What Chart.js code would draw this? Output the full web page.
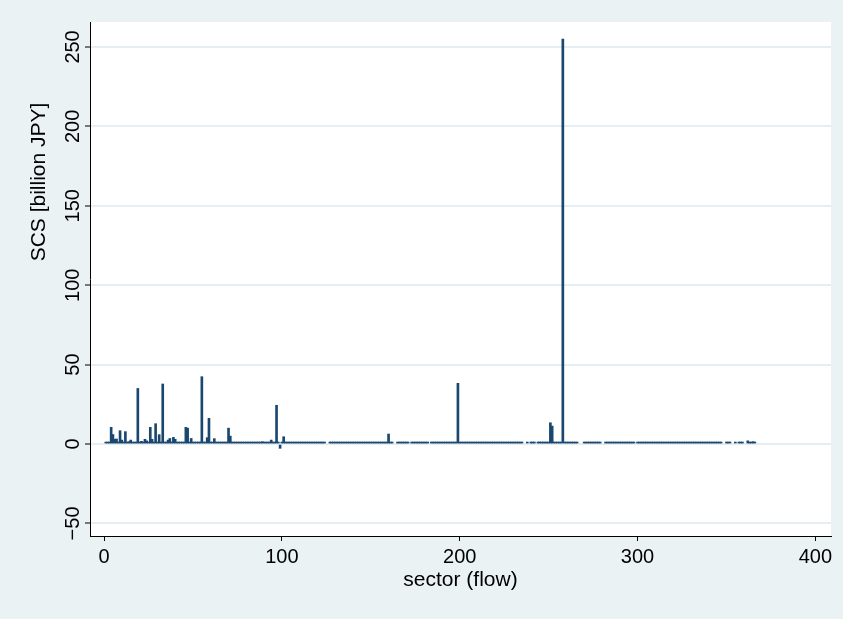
<!DOCTYPE html>
<html>
<head>
<meta charset="utf-8">
<title>SCS by sector</title>
<script src="https://cdn.jsdelivr.net/npm/chart.js@4.4.1/dist/chart.umd.min.js"></script>
<style>
  html, body { margin: 0; padding: 0; background: #eaf2f3; }
  #scsChart { display: block; }
</style>
</head>
<body>
<canvas id="scsChart" width="843" height="619"></canvas>
<script>
// SCS per sector (billion JPY), sector 1 first; null = sector without a value
const scsValues = [
  0.5, 0.4, 0.8, 10.5, 6.0, 3.0, 3.2, 1.0, 8.4, 2.5, 1.0, 7.8, 0.8, 1.5, 2.5, 0.8, 0.6, 1.0, 35.0, 1.0,
  1.7, 1.0, 3.0, 2.0, 1.2, 10.5, 3.0, 1.0, 12.8, 1.0, 5.9, 1.0, 37.8, 0.8, 0.6, 2.5, 3.5, 1.0, 4.2, 3.0,
  0.8, 0.6, 0.5, 0.8, 1.0, 10.5, 10.0, 1.2, 3.5, 1.0, 0.6, 0.5, 0.6, 0.8, 42.4, 0.6, 0.8, 4.0, 16.2, 0.8,
  1.0, 3.4, 0.8, 0.6, 0.5, 0.8, 1.0, 0.6, 0.8, 10.0, 5.0, 1.0, 0.8, 1.2, 1.0, 0.6, 0.8, 0.5, 0.6, 1.0,
  0.8, 1.0, 1.2, 0.8, 0.6, 0.5, 0.6, 0.8, 1.5, 1.0, 0.6, 0.8, 1.0, 2.5, 0.8, 1.0, 24.4, 0.6, -2.7, 0.8,
  4.6, 0.8, 0.6, 0.5, 0.6, 0.8, 1.0, 0.6, 0.5, 0.6, 0.5, 0.6, 0.8, 1.0, 1.2, 0.6, 0.5, 0.6, 0.5, 0.6,
  0.5, 0.6, 0.5, 0.6, null, null, 0.5, 0.6, 0.5, 0.6, 0.5, 0.6, 0.5, 0.6, 0.7, 0.9, 0.8, 0.6, 0.5, 0.6,
  0.5, 0.6, 0.5, 0.6, 0.5, 0.6, 0.5, 0.6, 0.5, 0.6, 0.5, 0.6, 0.5, 0.6, 0.5, 0.6, 0.5, 0.6, 0.7, 6.3,
  0.6, 0.5, null, null, 0.5, 0.6, 0.5, 0.6, 0.5, 0.6, 0.5, null, 0.5, 0.6, 0.5, 0.6, 0.5, 0.6, 0.5, 0.6,
  0.5, 0.6, null, 0.6, 0.5, 0.6, 0.5, 0.6, 0.5, 0.6, 0.5, 0.6, 0.5, 0.6, 0.5, 0.6, 0.7, 0.8, 38.2, 0.6,
  0.5, 0.6, 0.5, 0.6, 0.5, 0.6, 0.5, 0.6, 0.5, 0.6, 0.5, 0.6, 0.5, 0.6, 0.5, 0.6, 0.5, 0.6, 0.5, 0.6,
  0.5, 0.6, 0.5, 0.6, 0.5, 0.6, 0.5, 0.6, 0.5, 0.6, 0.5, 0.6, 0.5, 0.6, 0.5, null, null, 0.5, null, 0.6,
  0.5, 0.6, null, 0.6, 1.3, 0.6, 0.5, 0.6, 0.5, 0.6, 13.4, 11.3, 0.6, 0.5, 0.6, 0.5, 0.6, 255.0, 0.6, 0.5,
  0.6, 0.5, 0.6, 0.5, 0.6, 0.5, null, null, null, 0.5, 0.6, 0.5, 0.6, 0.5, 0.6, 0.5, 0.6, 0.5, 0.6, null,
  null, 0.6, 0.5, 0.6, 0.5, 0.6, 0.5, 0.6, 0.5, 0.6, 0.5, 0.6, 0.5, 0.6, 0.5, 0.6, 0.5, 0.6, null, 0.5,
  0.6, 0.5, 0.6, 0.5, 0.6, 0.5, 0.6, 0.5, 0.8, 1.0, 1.2, 0.8, 0.6, 1.0, 0.8, 0.6, 0.5, 0.6, 0.5, 0.6,
  0.5, 0.6, 0.5, 0.6, 0.5, 0.6, 0.5, 0.6, 0.5, 0.6, 0.5, 0.6, 0.5, 0.6, 0.5, 0.6, 0.5, 0.6, 0.5, 0.6,
  0.5, 0.6, 0.5, 0.6, 0.5, 0.6, 0.5, null, null, 0.5, 0.6, 0.5, null, null, 0.6, null, 0.5, 0.6, 0.6, null,
  null, 2.0, 0.8, 0.6, 1.5, 0.6
];
const sectors = scsValues.map((v, i) => i + 1);

const xTicks = [0, 100, 200, 300, 400];
const yTicks = [-50, 0, 50, 100, 150, 200, 250];
const xTitle = 'sector (flow)';
const yTitle = 'SCS [billion JPY]';

const fontFamily = '"Liberation Sans", Arial, Helvetica, sans-serif';
const spikeColor = '#1a476f';
const outerColor = '#eaf2f3';

const points = sectors
    .map((s, i) => ({ x: s, y: scsValues[i] }))
    .filter(p => p.y !== null);

// graph region tint + white plot region
const panelBackground = {
    id: 'panelBackground',
    beforeDraw(chart) {
        const { ctx, chartArea: a } = chart;
        ctx.save();
        ctx.fillStyle = outerColor;
        ctx.fillRect(0, 0, chart.width, chart.height);
        ctx.fillStyle = '#ffffff';
        ctx.fillRect(a.left, a.top, a.right - a.left, a.bottom - a.top);
        ctx.restore();
    }
};

// vertical tick labels and title on the y axis
const yAxisText = {
    id: 'yAxisText',
    afterDraw(chart) {
        const { ctx, chartArea: a } = chart;
        const yScale = chart.scales.y;
        ctx.save();
        ctx.fillStyle = '#000';
        ctx.textAlign = 'center';
        ctx.textBaseline = 'middle';
        ctx.font = '20px ' + fontFamily;
        yTicks.forEach(v => {
            ctx.save();
            ctx.translate(73, yScale.getPixelForValue(v));
            ctx.rotate(-Math.PI / 2);
            ctx.fillText(v < 0 ? '\u2212' + Math.abs(v) : String(v), 0, 0);
            ctx.restore();
        });
        ctx.font = '21px ' + fontFamily;
        ctx.translate(39, 182);
        ctx.rotate(-Math.PI / 2);
        ctx.fillText(yTitle, 0, 0);
        ctx.restore();
    }
};

new Chart(document.getElementById('scsChart'), {
    type: 'bar',
    data: {
        datasets: [{
            label: 'SCS',
            data: points,
            backgroundColor: spikeColor,
            borderWidth: 0,
            barThickness: 2,
            minBarLength: 2
        }]
    },
    options: {
        responsive: false,
        animation: false,
        devicePixelRatio: 1,
        layout: { padding: { top: 22, right: 12, left: 0, bottom: 0 } },
        plugins: {
            legend: { display: false },
            tooltip: { enabled: false }
        },
        scales: {
            x: {
                type: 'linear',
                min: -7.9,
                max: 408.8,
                offset: false,
                afterBuildTicks: s => { s.ticks = xTicks.map(v => ({ value: v })); },
                afterFit: s => { s.height = 83; },
                grid: {
                    offset: false,
                    drawOnChartArea: false,
                    drawTicks: true,
                    tickLength: 5,
                    tickColor: '#000',
                    tickWidth: 1
                },
                border: { display: true, color: '#000', width: 1 },
                ticks: {
                    color: '#000',
                    font: { family: fontFamily, size: 20 },
                    padding: 4,
                    maxRotation: 0,
                    autoSkip: false
                },
                title: {
                    display: true,
                    text: xTitle,
                    color: '#000',
                    font: { family: fontFamily, size: 21 },
                    padding: { top: 0, bottom: 26 }
                }
            },
            y: {
                min: -57.9,
                max: 265.7,
                afterBuildTicks: s => { s.ticks = yTicks.map(v => ({ value: v })); },
                afterFit: s => { s.width = 90; },
                grid: {
                    color: '#e6eef1',
                    lineWidth: 2,
                    drawTicks: true,
                    tickLength: 5,
                    tickColor: '#000',
                    tickWidth: 1
                },
                border: { display: true, color: '#000', width: 1 },
                ticks: { display: false }
            }
        }
    },
    plugins: [panelBackground, yAxisText]
});
</script>
</body>
</html>
